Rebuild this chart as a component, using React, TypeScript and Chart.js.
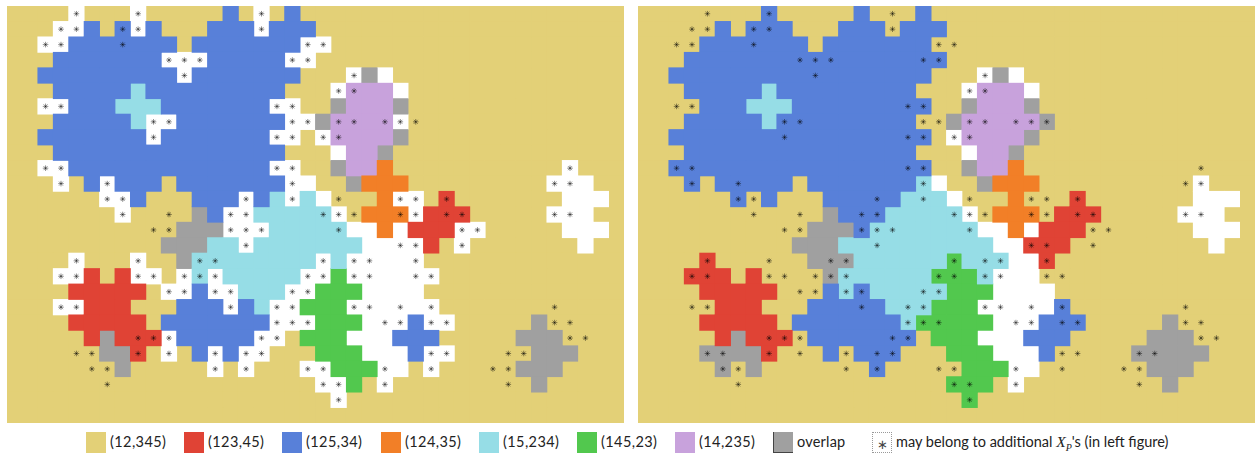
import React, { useEffect, useRef } from "react";
import { Chart, registerables } from "chart.js";

Chart.register(...registerables);

// '.' (12,345)  r (123,45)  b (125,34)  o (124,35)  c (15,234)  g (145,23)  p (14,235)  x overlap  w no label
const leftRows = [
  "....w...w.....b.w.b",
  "...wwb.bwb...bbbwbbb",
  "..wwbbbbbbb.bbbbbbbww",
  "...bbbbbbbwwwbbbbbww",
  "..bbbbbbbbbwbbbbbbb...wxw",
  "...bbbbbcbbbbbbbbb...wpppw",
  "..wwbbbcccbbbbbbbww..xpppx",
  "...bbbbbcwwbbbbbbbwwxppppw",
  "..bbbbbbbwbbbbbbbww.wppppx",
  "...bbbbbbbbbbbbbbb...wppx",
  "..wwbbbbbbbbbbbbbww..xppo...........w",
  "...w.bwbbb.bbbbbbbww..xooo.........www",
  "......wwb...bbbwbcwcw...oww.r.......www",
  ".......w....xbwwcccccw.ooowrrr.....www",
  "...........xxxwwwcccccwwowrrrww.....www",
  "..........xxxccwcccccccwwwwr.w.......w",
  "....w...w..xccccccccwcwwwww",
  "...wwr.rww.wcwcccccwwgwwwwww",
  "....rrrrr.wwbwwcccwwgggwwww",
  "...wwrrr...bbbwbcwwgggwwwwww",
  "....rrrrr.bbbbbbbwwwgggwwwbww.....x",
  ".....rxrrrwbbbbbww.gggwwwbbb.....xxx",
  "......xxr.w.bwbww...gggwwwbww.....xxx",
  ".......x.....w.w...wwgggww.w.....xxx",
  "....................wwg.w.........x",
  ".....................w",
  "",
];

const rightRows = [
  "........b.....b...b",
  ".....b.bbb...bbb.bbb",
  "....bbbbbbb.bbbbbbb",
  "...bbbbbbbbbbbbbbbbb",
  "..bbbbbbbbbbbbbbbbb...wxw",
  "...bbbbbcbbbbbbbbb...wpppw",
  "....bbbcccbbbbbbbbb..xpppx",
  "...bbbbbcbbbbbbbbb..xpppppx",
  "..bbbbbbbbbbbbbbbbb.wppppx",
  "...bbbbbbbbbbbbbbb...wppx",
  "..bbbbbbbbbbbbbbbbb..xppo",
  "...b.bbbbb.bbbbbbbcw..xooo..........w",
  "......b.b...bbbbbcccw...o...r.......www",
  "............xbbbcccccw.ooo.rrr.....www",
  "...........xxxbcccccccwwowrrr.......www",
  "..........xxxccccccccccwwrrr.........w",
  "....r......xxxccccccgcccwwr",
  "...rrr.r....xccccccgggcwww",
  "....rrrrr...bcbcccccgggwwww",
  ".....rrr...bbbbbcccgggwwwwwb",
  "....rrrrr.bbbbbbbcgggggwwwbbb.....x",
  ".....rxrrr.bbbbbbb.gggwwwbbb.....xxx",
  "....xxxxr...b.bbb...gggwwwb.....xxxxx",
  ".....x.x.......b.....gggww.......xxx",
  "....................ggg.w.........x",
  ".....................g",
  "",
];

// columns that carry an asterisk, row by row (same in both panels)
const starColumns = [
  [4, 8, 16],
  [3, 4, 7, 8, 16],
  [2, 3, 7, 19, 20],
  [10, 11, 12, 18, 19],
  [11, 22],
  [21, 22],
  [2, 3, 17, 18],
  [9, 10, 18, 19, 21, 22, 24, 25, 26],
  [9, 17, 18, 20, 21],
  [],
  [2, 3, 17, 18, 36],
  [3, 6, 18, 35, 36],
  [6, 7, 15, 18, 21, 25, 26, 28],
  [7, 10, 14, 15, 20, 21, 22, 25, 26, 28, 29, 35, 36],
  [9, 10, 14, 15, 16, 21, 29, 30],
  [15, 25, 26, 29],
  [4, 8, 12, 13, 20, 22, 23, 26],
  [3, 4, 8, 9, 11, 12, 13, 19, 20, 22, 23, 26, 27],
  [10, 11, 13, 14, 18, 19],
  [3, 4, 14, 17, 18, 22, 23, 25, 27, 35],
  [17, 18, 19, 24, 25, 27, 28, 35, 36],
  [8, 9, 10, 16, 17, 36, 37],
  [4, 5, 8, 10, 13, 15, 16, 27, 28, 32, 33],
  [5, 6, 13, 15, 19, 20, 24, 27, 31, 32],
  [6, 20, 21, 24, 32],
  [21],
  [],
];

const COLS = 40;
const ROWS = 27;

const regionCodes = [".", "r", "b", "o", "c", "g", "p", "x", "w"];
const regionLabels = ["(12,345)", "(123,45)", "(125,34)", "(124,35)", "(15,234)", "(145,23)", "(14,235)", "overlap", "none"];
const regionColors = ["#E3D077", "#E04335", "#5880D9", "#F27F27", "#96DDE6", "#52C84E", "#C8A2DC", "#A0A0A0", "#FFFFFF"];

const legendLeft = [86, 184, 282, 381, 479, 577, 675, 773];
const STAR_SWATCH_LEFT = 872;
const FONT = "Lato, 'Open Sans', sans-serif";

function cellsFor(rows: string[], code: string) {
  const out: { x: number; y: number }[] = [];
  for (let y = 0; y < ROWS; y++) {
    const row = rows[y] ?? "";
    for (let x = 0; x < COLS; x++) {
      if ((row[x] ?? ".") === code) out.push({ x, y });
    }
  }
  return out;
}

function starPoints() {
  const out: { x: number; y: number }[] = [];
  starColumns.forEach((cols, y) => cols.forEach((x) => out.push({ x, y })));
  return out;
}

function Panel({ rows, left }: { rows: string[]; left: number }) {
  const ref = useRef<HTMLCanvasElement>(null);
  useEffect(() => {
    if (!ref.current) return;
    const cellSets = regionCodes.map((code, i) => ({
      label: regionLabels[i],
      data: cellsFor(rows, code),
      backgroundColor: regionColors[i],
      pointStyle: "rect" as const,
      pointRadius: 11.5,
      pointBorderWidth: 0,
      // the background is painted first, everything else above it
      order: code === "." ? 20 : 10,
    }));
    const stars = {
      label: "may belong to additional X_P's",
      data: starPoints(),
      pointStyle: "star" as const,
      pointRadius: 2.8,
      pointBorderWidth: 0.8,
      borderColor: "rgba(0,0,0,0.55)",
      backgroundColor: "rgba(0,0,0,0.55)",
      order: 0,
    };
    const chart = new Chart(ref.current, {
      type: "scatter",
      data: { datasets: [stars, ...cellSets] as any },
      options: {
        animation: false,
        responsive: false,
        devicePixelRatio: 1,
        events: [],
        layout: { padding: 0, autoPadding: false },
        plugins: { legend: { display: false }, tooltip: { enabled: false } },
        scales: {
          x: { type: "linear", min: -0.5, max: COLS - 0.5, display: false },
          y: { type: "linear", min: -0.5, max: ROWS - 0.5, reverse: true, display: false },
        },
      },
    });
    return () => chart.destroy();
  }, [rows]);
  return (
    <canvas
      ref={ref}
      width={617}
      height={417}
      style={{ position: "absolute", left, top: 6, width: 617, height: 417, display: "block" }}
    />
  );
}

const swatchBase: React.CSSProperties = {
  position: "absolute",
  top: 432,
  width: 20,
  height: 21,
  boxSizing: "border-box",
};

const textBase: React.CSSProperties = {
  position: "absolute",
  top: 431,
  height: 21,
  lineHeight: "21px",
  fontFamily: FONT,
  fontSize: 14.5,
  color: "#222",
  whiteSpace: "nowrap",
};

export default function App() {
  return (
    <div style={{ position: "absolute", left: 0, top: 0, width: 1258, height: 454, background: "#fff", overflow: "hidden" }}>
      <Panel rows={leftRows} left={7} />
      <Panel rows={rightRows} left={638} />
      {legendLeft.map((x, i) => (
        <React.Fragment key={regionLabels[i]}>
          <div
            style={{
              ...swatchBase,
              left: x,
              background: regionColors[i],
              ...(regionCodes[i] === "x" ? { borderLeft: "1px solid #444", borderBottom: "1px solid #444" } : {}),
            }}
          />
          <div style={{ ...textBase, left: x + 24, letterSpacing: i < 7 ? 0.4 : 0.2 }}>{regionLabels[i]}</div>
        </React.Fragment>
      ))}
      <div
        style={{
          ...swatchBase,
          left: STAR_SWATCH_LEFT,
          border: "1px dotted #999",
          textAlign: "center",
          fontFamily: FONT,
          fontSize: 13,
          lineHeight: "23px",
          color: "#444",
        }}
      >
        ∗
      </div>
      <div style={{ ...textBase, left: STAR_SWATCH_LEFT + 24 }}>
        may belong to additional{" "}
        <span style={{ fontFamily: "'Liberation Serif', serif", fontStyle: "italic", fontSize: 15.5 }}>
          X
          <sub style={{ fontSize: 10, lineHeight: 0 }}>P</sub>
        </span>
        's (in left figure)
      </div>
    </div>
  );
}
